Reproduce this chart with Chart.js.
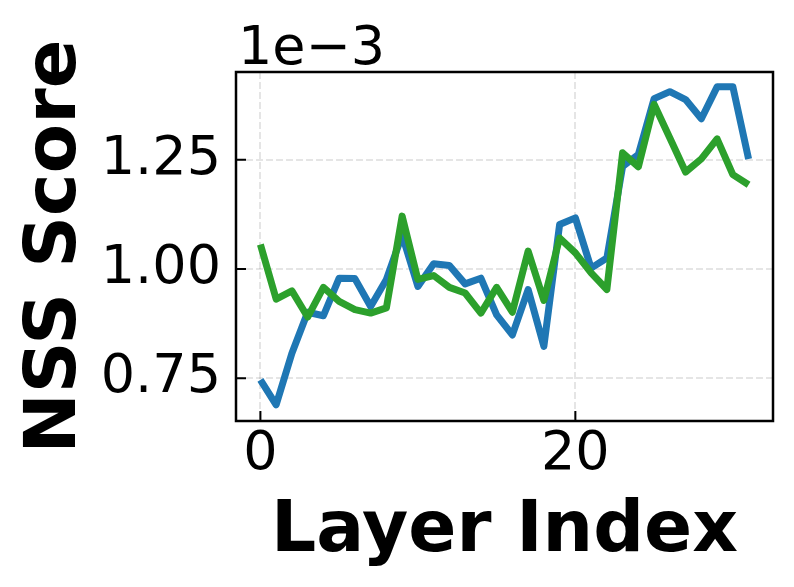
<!DOCTYPE html>
<html>
<head>
<meta charset="utf-8">
<script src="https://cdn.jsdelivr.net/npm/chart.js@4.4.1/dist/chart.umd.min.js"></script>
<style>
  html, body { margin: 0; padding: 0; background: #fff; }
  #wrap { width: 794px; height: 587px; }
</style>
</head>
<body>
<div id="wrap"><canvas id="c"></canvas></div>
<script>
// layer indices and NSS scores (in units of 1e-3)
var layers = [];
for (var i = 0; i < 32; i++) layers.push(i);
var nssBlue = [0.746, 0.689, 0.807, 0.901, 0.893, 0.979, 0.978, 0.914, 0.976, 1.078,
               0.960, 1.012, 1.008, 0.966, 0.979, 0.895, 0.849, 0.953, 0.823, 1.102,
               1.117, 1.002, 1.025, 1.235, 1.262, 1.390, 1.406, 1.388, 1.344, 1.417,
               1.417, 1.252];
var nssGreen = [1.056, 0.931, 0.950, 0.890, 0.958, 0.926, 0.907, 0.899, 0.911, 1.121,
                0.976, 0.985, 0.958, 0.945, 0.899, 0.958, 0.901, 1.041, 0.928, 1.071,
                1.037, 0.991, 0.953, 1.266, 1.234, 1.377, 1.300, 1.222, 1.252, 1.298,
                1.216, 1.193];
var xTicks = [0, 20];
var yTicks = [0.75, 1.00, 1.25];

function pts(vals) {
  return layers.map(function (x, k) { return { x: x, y: vals[k] }; });
}

var FONT = '"DejaVu Sans", sans-serif';

// box around plot, inward tick marks and the offset text
var frame = {
  id: 'frame',
  afterDatasetsDraw: function (chart) {
    var a = chart.chartArea, ctx = chart.ctx;
    var xs = chart.scales.x, ys = chart.scales.y;
    ctx.save();
    ctx.strokeStyle = '#000';
    ctx.lineWidth = 2;
    ctx.beginPath();
    xTicks.forEach(function (t) {
      var px = xs.getPixelForValue(t);
      ctx.moveTo(px, a.bottom); ctx.lineTo(px, a.bottom - 10);
    });
    yTicks.forEach(function (t) {
      var py = ys.getPixelForValue(t);
      ctx.moveTo(a.left, py); ctx.lineTo(a.left + 10, py);
    });
    ctx.stroke();
    ctx.lineWidth = 2.5;
    ctx.strokeRect(a.left, a.top, a.right - a.left, a.bottom - a.top);
    ctx.fillStyle = '#000';
    ctx.font = '54px ' + FONT;
    ctx.textAlign = 'left';
    ctx.textBaseline = 'alphabetic';
    ctx.fillText('1e\u22123', a.left + 2, a.top - 8);
    ctx.restore();
  }
};

new Chart(document.getElementById('c'), {
  type: 'line',
  data: {
    datasets: [{
      data: pts(nssBlue),
      borderColor: '#1f77b4',
      borderWidth: 7,
      pointRadius: 0,
      borderJoinStyle: 'round',
      order: 1
    }, {
      data: pts(nssGreen),
      borderColor: '#2ca02c',
      borderWidth: 7,
      pointRadius: 0,
      borderJoinStyle: 'round',
      order: 0
    }]
  },
  options: {
    responsive: true,
    maintainAspectRatio: false,
    animation: false,
    devicePixelRatio: 1,
    layout: { padding: { top: 72, right: 21, left: 0, bottom: 0 } },
    plugins: { legend: { display: false }, tooltip: { enabled: false } },
    scales: {
      x: {
        type: 'linear',
        min: -1.55,
        max: 32.55,
        afterBuildTicks: function (s) { s.ticks = xTicks.map(function (v) { return { value: v }; }); },
        afterFit: function (s) { s.height = 166; },
        grid: { color: 'rgba(0,0,0,0.1)', lineWidth: 2, drawTicks: false },
        border: { display: false, dash: [7, 3] },
        ticks: { color: '#000', font: { family: FONT, size: 54 }, padding: 2, maxRotation: 0 },
        title: { display: true, text: 'Layer Index', color: '#000',
                 font: { family: FONT, size: 71, weight: 'bold' }, padding: { top: 0, bottom: 12 } }
      },
      y: {
        min: 0.652,
        max: 1.451,
        afterBuildTicks: function (s) { s.ticks = yTicks.map(function (v) { return { value: v }; }); },
        afterFit: function (s) { s.width = 236; },
        grid: { color: 'rgba(0,0,0,0.1)', lineWidth: 2, drawTicks: false },
        border: { display: false, dash: [7, 3] },
        ticks: { color: '#000', font: { family: FONT, size: 54 }, padding: 15,
                 callback: function (v) { return v.toFixed(2); } },
        title: { display: true, text: 'NSS Score', color: '#000',
                 font: { family: FONT, size: 72, weight: 'bold' }, padding: { top: 13, bottom: 0 } }
      }
    }
  },
  plugins: [frame]
});
</script>
</body>
</html>
